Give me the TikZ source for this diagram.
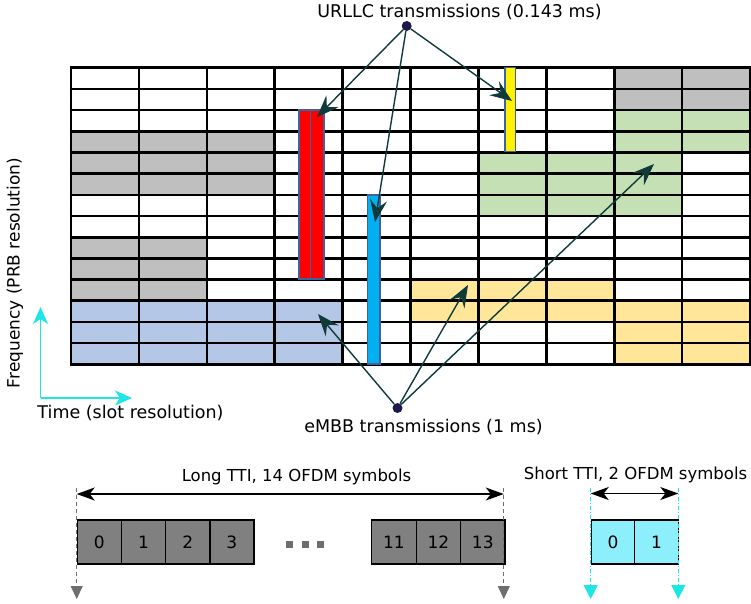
\documentclass[tikz,border=0pt]{standalone}
\usepackage{fontspec}
\setmainfont{DejaVu Sans}
\usetikzlibrary{arrows.meta}
\definecolor{cgray}{HTML}{BFBFBF}
\definecolor{cblue}{HTML}{B4C7E7}
\definecolor{cgreen}{HTML}{C5E0B4}
\definecolor{cyel}{HTML}{FFE699}
\definecolor{barborder}{HTML}{41619C}
\definecolor{cbar}{HTML}{00B0F0}
\definecolor{arrowc}{HTML}{0E3A3A}
\definecolor{dotc}{HTML}{1C1A4A}
\definecolor{axisc}{HTML}{1EE6E6}
\definecolor{symgray}{HTML}{808080}
\definecolor{symcyan}{HTML}{8CEFFB}
\definecolor{guidegray}{HTML}{6E6E6E}
\tikzset{
  lbl/.style={font=\fontsize{17.5}{20}\selectfont, inner sep=0pt, anchor=center},
  tti/.style={font=\fontsize{16.5}{19}\selectfont, inner sep=0pt, anchor=center},
  bar/.style={draw=barborder, line width=1.2pt},
  callout/.style={draw=arrowc, line width=1.4pt, -{Stealth[length=22pt,width=17pt,inset=8pt]}},
  hub/.style={circle, fill=dotc, inner sep=0pt, minimum size=10pt},
  symbox/.style={draw=black, line width=1.2pt, minimum height=44pt, inner sep=0pt,
                 font=\fontsize{17}{20}\selectfont},
  axisarrow/.style={draw=axisc, line width=1.6pt, -{Stealth[length=17pt,width=15pt,inset=5pt]}},
  dblarrow/.style={draw=black, line width=1.2pt, {Stealth[length=18pt,width=13pt,inset=5pt]}-{Stealth[length=18pt,width=13pt,inset=5pt]}},
  guide/.style={draw=guidegray, line width=1pt, dash pattern=on 4pt off 3pt, -{Triangle[length=13pt,width=12pt]}},
  cguide/.style={draw=axisc, line width=1pt, dash pattern=on 4pt off 2pt on 1pt off 2pt, -{Triangle[length=14pt,width=14pt]}},
}
\begin{document}
\begin{tikzpicture}[x=1pt,y=-1pt]
\useasboundingbox (0,0) rectangle (751,603);
% grid geometry: x0=71, col width 67.9; y0=67.7, row height 21.19
\def\gx{71}\def\gw{67.9}\def\gy{67.7}\def\gh{21.19}
\newcommand{\cellfill}[5]{% color, col0, col1(excl), row0, row1(excl)
  \fill[#1] ({\gx+#2*\gw},{\gy+#4*\gh}) rectangle ({\gx+#3*\gw},{\gy+#5*\gh});}
\cellfill{cgray}{0}{3}{3}{6}
\cellfill{cgray}{0}{2}{8}{11}
\cellfill{cgray}{8}{10}{0}{2}
\cellfill{cblue}{0}{4}{11}{14}
\cellfill{cgreen}{8}{10}{2}{4}
\cellfill{cgreen}{6}{9}{4}{7}
\cellfill{cyel}{5}{8}{10}{11}
\cellfill{cyel}{5}{10}{11}{12}
\cellfill{cyel}{8}{10}{12}{14}
% grid lines
\foreach \i in {0,...,10} \draw[line width=2.6pt] ({\gx+\i*\gw},{\gy-1.3}) -- ({\gx+\i*\gw},{\gy+14*\gh+1.3});
\foreach \j in {0,...,14} \draw[line width=2.6pt] ({\gx-1.3},{\gy+\j*\gh}) -- ({\gx+10*\gw+1.3},{\gy+\j*\gh});
% URLLC bars
\draw[bar, fill=red] (299,110) rectangle (310.7,279);
\draw[bar, fill=red] (310.7,110) rectangle (324,279);
\draw[bar, fill=cbar] (367.3,195) rectangle (380,364);
\draw[bar, fill=yellow] (505,67.7) rectangle (515.7,151.7);
% labels and hubs
\node[lbl] (urllc) at (459.5,12) {URLLC transmissions (0.143 ms)};
\node[hub] (uhub) at (406.7,26) {};
\node[lbl] (embb) at (423.5,427) {eMBB transmissions (1 ms)};
\node[hub] (ehub) at (397.5,408) {};
\coordinate (tred) at (317,117);
\coordinate (tblue) at (375,222);
\coordinate (tyel) at (512,101);
\coordinate (tbl) at (318,314);
\coordinate (tyl) at (468,285);
\coordinate (tgr) at (654,164);
\draw[callout] (uhub) -- (tred);
\draw[callout] (uhub) -- (tblue);
\draw[callout] (uhub) -- (tyel);
\draw[callout] (ehub) -- (tbl);
\draw[callout] (ehub) -- (tyl);
\draw[callout] (ehub) -- (tgr);
% axes
\coordinate (origin) at (40.5,398);
\coordinate (fup) at (40.5,307);
\coordinate (tright) at (132,398);
\draw[axisarrow] (origin) -- (fup);
\draw[axisarrow] (origin) -- (tright);
\node[lbl, font=\fontsize{17}{20}\selectfont, rotate=90] (freq) at (15,273) {Frequency (PRB resolution)};
\node[lbl] (time) at (130.5,413) {Time (slot resolution)};
% long TTI
\node[tti] (longlbl) at (296.5,477) {Long TTI, 14 OFDM symbols};
\node[symbox, fill=symgray, minimum width=44pt, anchor=north west] (s0) at (76.7,519.3) {0};
\node[symbox, fill=symgray, minimum width=44.3pt, anchor=north west] (s1) at (120.7,519.3) {1};
\node[symbox, fill=symgray, minimum width=44.3pt, anchor=north west] (s2) at (165,519.3) {2};
\node[symbox, fill=symgray, minimum width=44pt, anchor=north west] (s3) at (209.3,519.3) {3};
\node[symbox, fill=symgray, minimum width=44.7pt, anchor=north west] (s11) at (371,519.3) {11};
\node[symbox, fill=symgray, minimum width=44.3pt, anchor=north west] (s12) at (415.7,519.3) {12};
\node[symbox, fill=symgray, minimum width=44.3pt, anchor=north west] (s13) at (460,519.3) {13};
\foreach \x/\n in {289.5/d1,305/d2,320.5/d3}
  \node[fill=guidegray, minimum size=7pt, inner sep=0pt] (\n) at (\x,544) {};
\coordinate (lt) at (76.7,488);
\coordinate (lb) at (76.7,599);
\coordinate (rt) at (503.8,488);
\coordinate (rb) at (503.8,599);
\draw[guide] (lt) -- (lb);
\draw[guide] (rt) -- (rb);
\coordinate (la) at (76.7,494);
\coordinate (ra) at (503.8,494);
\draw[dblarrow] (la) -- (ra);
% short TTI
\node[tti] (shortlbl) at (635.5,475) {Short TTI, 2 OFDM symbols};
\node[symbox, fill=symcyan, minimum width=43.3pt, anchor=north west] (c0) at (590.7,519.3) {0};
\node[symbox, fill=symcyan, minimum width=44pt, anchor=north west] (c1) at (634,519.3) {1};
\coordinate (clt) at (590.7,488);
\coordinate (clb) at (590.7,599);
\coordinate (crt) at (678.3,488);
\coordinate (crb) at (678.3,599);
\draw[cguide] (clt) -- (clb);
\draw[cguide] (crt) -- (crb);
\coordinate (ca) at (590.7,493.5);
\coordinate (cb) at (678.3,493.5);
\draw[dblarrow] (ca) -- (cb);
\end{tikzpicture}
\end{document}
